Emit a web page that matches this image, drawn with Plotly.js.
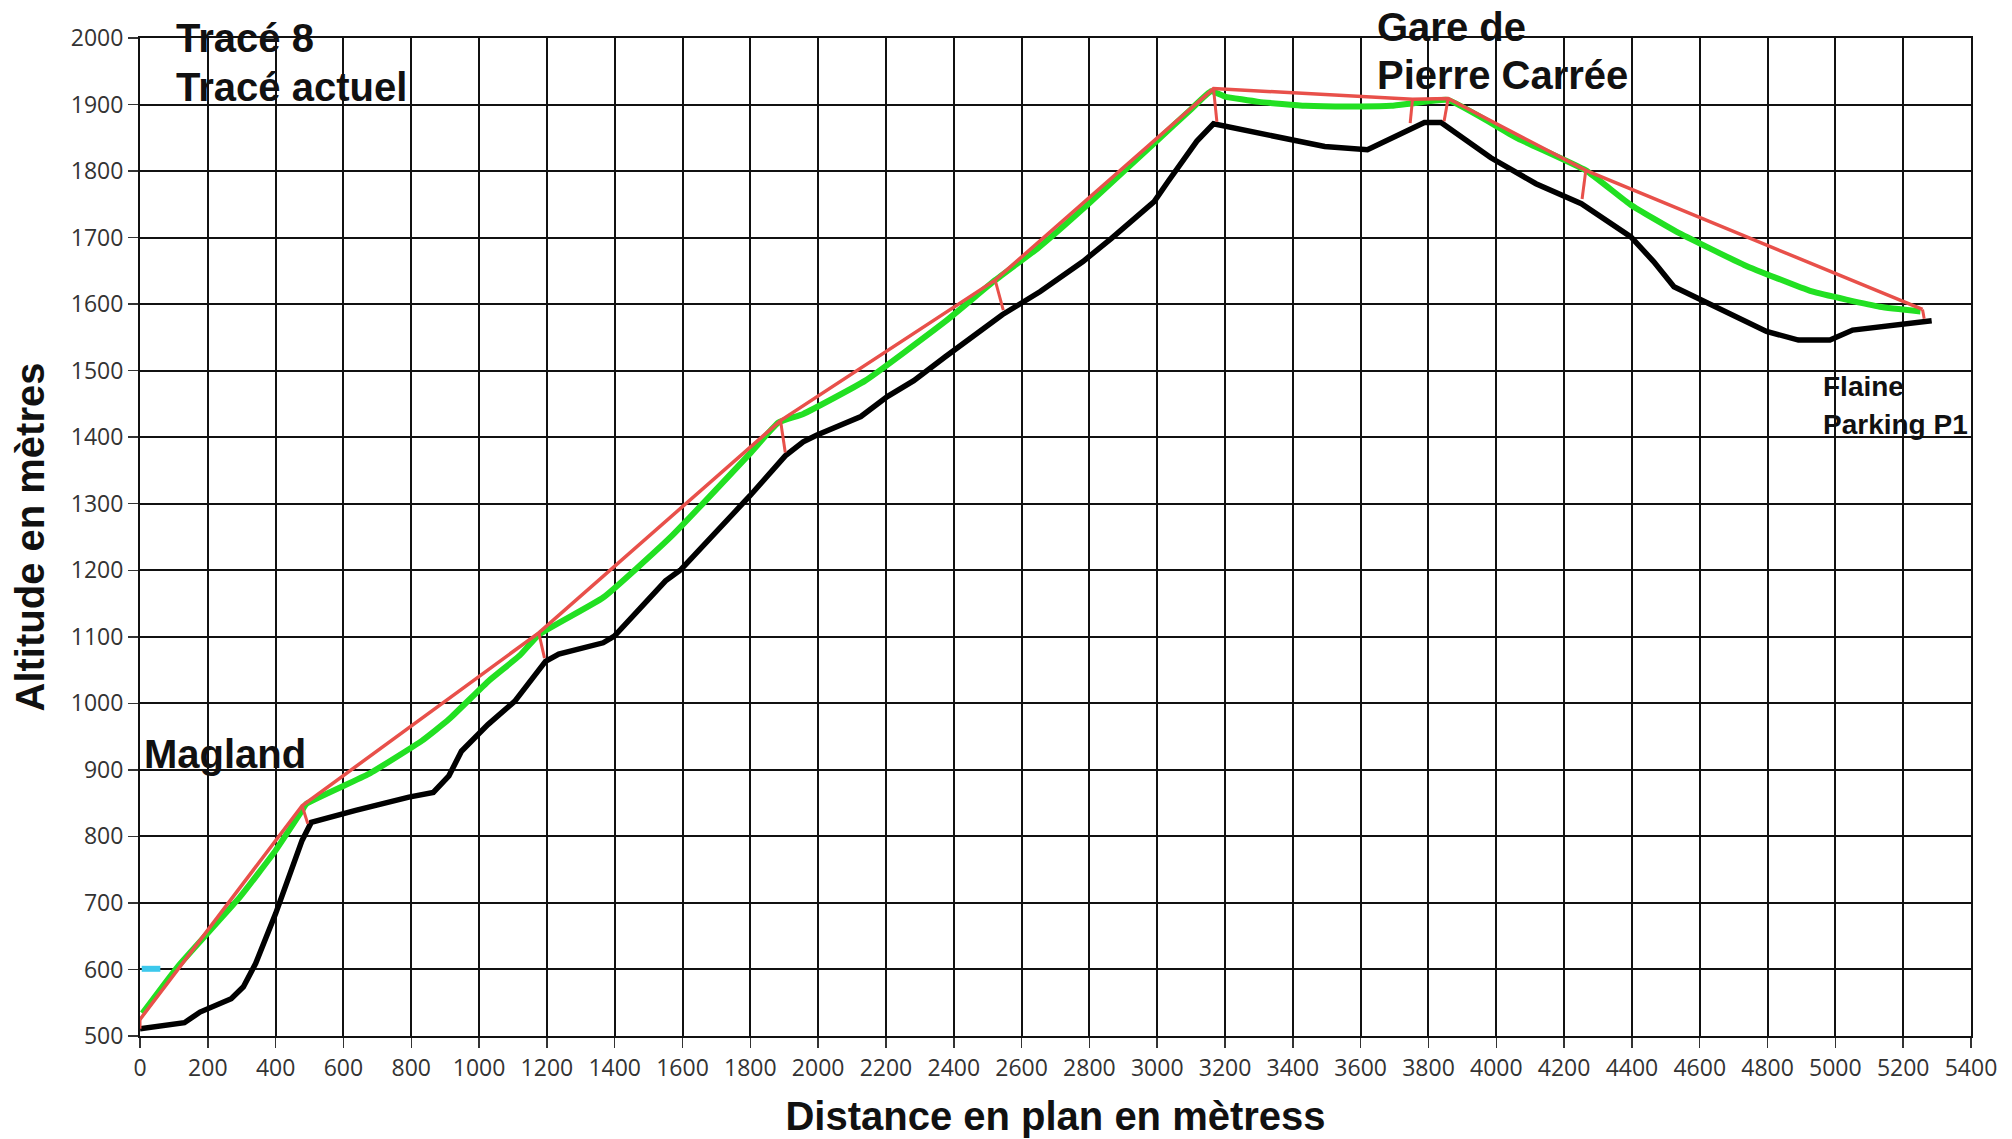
<!DOCTYPE html>
<html>
<head>
<meta charset="utf-8">
<script src="https://cdn.plot.ly/plotly-3.0.1.min.js"></script>
<style>html,body{margin:0;padding:0;background:#fff;}#chart{width:2012px;height:1139px;}</style>
</head>
<body>
<div id="chart"></div>
<script>
// Terrain profile (black)
const terrainX = [0,131,177,269,305,341,400,439,478,505,531,636,793,865,911,948,1026,1105,1196,1235,1366,1399,1550,1595,1766,1799,1903,1956,1995,2126,2204,2282,2375,2543,2655,2781,2865,2991,3033,3117,3166,3215,3397,3494,3620,3774,3788,3837,3886,3984,4117,4251,4397,4464,4524,4677,4797,4891,4984,5051,5131,5197,5284];
const terrainY = [511,520,536,556,574,609,684,739,794,821,825,839,859,866,891,928,968,1003,1063,1074,1091,1101,1184,1201,1294,1312,1372,1393,1403,1431,1461,1485,1521,1584,1619,1664,1699,1754,1785,1845,1871,1866,1846,1837,1832,1869,1873,1873,1855,1820,1781,1751,1701,1664,1626,1589,1559,1546,1546,1561,1566,1569,1575];

// Cable line (green, sagging)
const cableX = [7,111,295,400,478,491,675,832,911,1029,1120,1176,1366,1563,1798,1883,1956,2139,2375,2522,2650,2800,3000,3100,3159,3200,3300,3438,3600,3690,3757,3857,4064,4264,4397,4531,4731,4931,5131,5251];
const cableY = [534,604,709,779,839,849,894,944,976,1034,1072,1103,1159,1249,1375,1422,1435,1485,1574,1636,1685,1752,1846,1893,1920,1912,1904,1898,1897,1898,1902,1907,1849,1801,1749,1709,1659,1619,1596,1589];

// Straight chord between pylons (red)
const chordX = [0,478,1176,1889,2522,3166,3753,3858,4264,5257];
const chordY = [525,846,1106,1425,1636,1924,1908,1909,1801,1592];

// Pylon feet (red ticks go from chord vertices down to these)
const pylonFootX = [0,495,1193,1903,2546,3176,3746,3846,4253,5262];
const pylonFootY = [511,819,1068,1377,1591,1874,1872,1875,1758,1578];

// Small cyan mark
const markX = [5,60];
const markY = [601,601];

// Labels (positions in data units: distance, altitude)
const labelTexts = ["Tracé 8","Tracé actuel","Magland","Gare de","Pierre Carrée","Flaine","Parking P1"];
const labelX = [100,100,6,3643,3643,4959,4959];
const labelY = [2000,1926,924,2016,1944,1476,1419];
const labelSize = [40,40,40,40,40,28,28];

const X_MIN = 0, X_MAX = 5400, Y_MIN = 500, Y_MAX = 2000;

const xTickVals = [];
for (let v = X_MIN; v <= X_MAX; v += 200) xTickVals.push(v);
const yTickVals = [];
for (let v = Y_MIN; v <= Y_MAX; v += 100) yTickVals.push(v);

// Build pylon segments from the named arrays
const pylonX = [], pylonY = [];
for (let i = 0; i < chordX.length; i++) {
  pylonX.push(chordX[i], pylonFootX[i], null);
  pylonY.push(chordY[i], pylonFootY[i], null);
}

const traces = [
  {x: terrainX, y: terrainY, mode: 'lines', line: {color: '#000000', width: 5.5}, hoverinfo: 'skip'},
  {x: cableX, y: cableY, mode: 'lines', line: {color: '#22e022', width: 6, shape: 'spline', smoothing: 0.4}, hoverinfo: 'skip'},
  {x: chordX, y: chordY, mode: 'lines', line: {color: '#e8504a', width: 3.5}, hoverinfo: 'skip'},
  {x: pylonX, y: pylonY, mode: 'lines', line: {color: '#e8504a', width: 3}, connectgaps: false, hoverinfo: 'skip'},
  {x: markX, y: markY, mode: 'lines', line: {color: '#3cc8ec', width: 6}, hoverinfo: 'skip'}
];

// Labels may sit above the plot's top, so place them in paper units derived from data values
const annotations = labelTexts.map((t, i) => ({
  text: t,
  x: (labelX[i] - X_MIN) / (X_MAX - X_MIN), xref: 'paper',
  y: (labelY[i] - Y_MIN) / (Y_MAX - Y_MIN), yref: 'paper',
  xanchor: 'left', yanchor: 'middle', showarrow: false,
  font: {family: 'Liberation Sans, Arial, sans-serif', size: labelSize[i], color: '#111111', weight: 'bold'}
}));

const layout = {
  width: 2012, height: 1139,
  margin: {l: 140, r: 41, t: 38, b: 103, pad: 0},
  paper_bgcolor: '#ffffff', plot_bgcolor: '#ffffff',
  showlegend: false,
  xaxis: {
    range: [X_MIN, X_MAX], tickvals: xTickVals, ticktext: xTickVals.map(String),
    showgrid: true, gridcolor: '#111111', gridwidth: 2,
    showline: true, linecolor: '#111111', linewidth: 2, mirror: true,
    ticks: 'outside', ticklen: 10, tickwidth: 1.5, tickcolor: '#333333',
    tickfont: {family: 'Open Sans, Noto Sans, sans-serif', size: 23, color: '#333333'},
    zeroline: false, fixedrange: true,
    title: {text: 'Distance en plan en mètress', standoff: 20,
      font: {family: 'Liberation Sans, Arial, sans-serif', size: 40, color: '#111111', weight: 'bold'}}
  },
  yaxis: {
    range: [Y_MIN, Y_MAX], tickvals: yTickVals, ticktext: yTickVals.map(String),
    showgrid: true, gridcolor: '#111111', gridwidth: 2,
    showline: true, linecolor: '#111111', linewidth: 2, mirror: true,
    ticks: 'outside', ticklen: 10, tickwidth: 1.5, tickcolor: '#333333',
    tickfont: {family: 'Open Sans, Noto Sans, sans-serif', size: 23, color: '#333333'},
    zeroline: false, fixedrange: true,
    title: {text: 'Altitude en mètres', standoff: 14,
      font: {family: 'Liberation Sans, Arial, sans-serif', size: 40, color: '#111111', weight: 'bold'}}
  },
  annotations: annotations
};

Plotly.newPlot('chart', traces, layout, {staticPlot: true, displayModeBar: false});
</script>
</body>
</html>
